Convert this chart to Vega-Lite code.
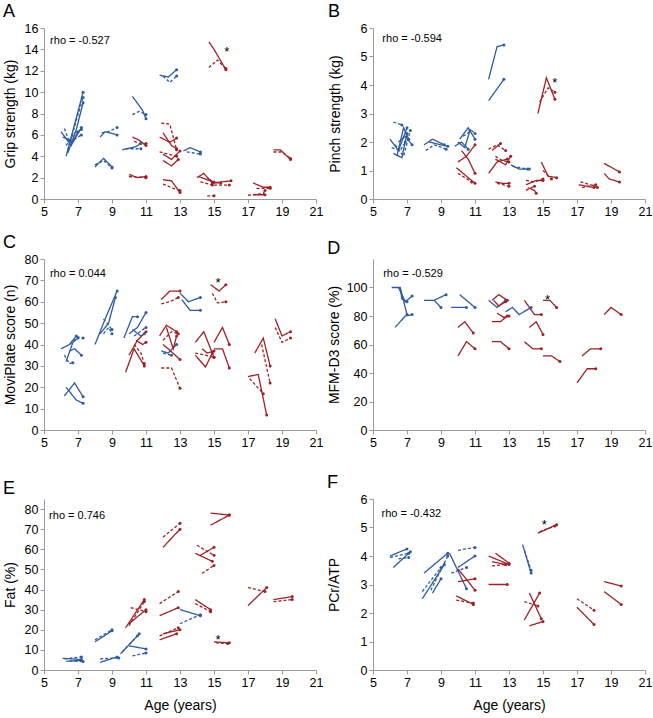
{
"$schema": "https://vega.github.io/schema/vega-lite/v6.json",
"background": "white",
"padding": {"left": 3, "top": 3, "right": 1, "bottom": 1},
"datasets": {
"L": [
{"p":"A","i":"a1","s":"s","g":"b","x":6.3,"y":4.0},{"p":"A","i":"a1","s":"s","g":"b","x":7.3,"y":10.0},
{"p":"A","i":"a2","s":"d","g":"b","x":6.4,"y":4.6},{"p":"A","i":"a2","s":"d","g":"b","x":7.3,"y":9.5},
{"p":"A","i":"a3","s":"s","g":"b","x":6.0,"y":6.3},{"p":"A","i":"a3","s":"s","g":"b","x":6.6,"y":5.0},{"p":"A","i":"a3","s":"s","g":"b","x":7.2,"y":6.7},
{"p":"A","i":"a4","s":"d","g":"b","x":6.2,"y":6.6},{"p":"A","i":"a4","s":"d","g":"b","x":6.5,"y":5.3},{"p":"A","i":"a4","s":"d","g":"b","x":7.2,"y":6.0},
{"p":"A","i":"a5","s":"s","g":"b","x":6.1,"y":5.8},{"p":"A","i":"a5","s":"s","g":"b","x":6.7,"y":5.4},{"p":"A","i":"a5","s":"s","g":"b","x":7.0,"y":6.3},
{"p":"A","i":"a6","s":"d","g":"b","x":6.3,"y":5.0},{"p":"A","i":"a6","s":"d","g":"b","x":6.8,"y":6.2},{"p":"A","i":"a6","s":"d","g":"b","x":7.2,"y":6.5},
{"p":"A","i":"a7","s":"s","g":"b","x":6.4,"y":4.3},{"p":"A","i":"a7","s":"s","g":"b","x":6.9,"y":6.5},{"p":"A","i":"a7","s":"s","g":"b","x":7.3,"y":9.0},
{"p":"A","i":"a8","s":"s","g":"b","x":8.0,"y":3.0},{"p":"A","i":"a8","s":"s","g":"b","x":8.5,"y":3.8},{"p":"A","i":"a8","s":"s","g":"b","x":9.0,"y":3.0},
{"p":"A","i":"a9","s":"d","g":"b","x":8.0,"y":3.2},{"p":"A","i":"a9","s":"d","g":"b","x":8.5,"y":3.6},{"p":"A","i":"a9","s":"d","g":"b","x":9.0,"y":2.9},
{"p":"A","i":"a10","s":"s","g":"b","x":8.3,"y":5.8},{"p":"A","i":"a10","s":"s","g":"b","x":8.6,"y":6.3},{"p":"A","i":"a10","s":"s","g":"b","x":9.3,"y":6.0},
{"p":"A","i":"a11","s":"d","g":"b","x":8.4,"y":6.2},{"p":"A","i":"a11","s":"d","g":"b","x":8.8,"y":6.3},{"p":"A","i":"a11","s":"d","g":"b","x":9.3,"y":6.7},
{"p":"A","i":"a12","s":"s","g":"b","x":10.2,"y":9.6},{"p":"A","i":"a12","s":"s","g":"b","x":10.8,"y":8.3},{"p":"A","i":"a12","s":"s","g":"b","x":11.0,"y":7.5},
{"p":"A","i":"a13","s":"d","g":"b","x":10.2,"y":7.9},{"p":"A","i":"a13","s":"d","g":"b","x":10.6,"y":8.2},{"p":"A","i":"a13","s":"d","g":"b","x":11.0,"y":7.9},
{"p":"A","i":"a14","s":"s","g":"b","x":9.6,"y":4.6},{"p":"A","i":"a14","s":"s","g":"b","x":10.4,"y":4.9},{"p":"A","i":"a14","s":"s","g":"b","x":10.7,"y":5.2},
{"p":"A","i":"a15","s":"d","g":"b","x":9.8,"y":4.7},{"p":"A","i":"a15","s":"d","g":"b","x":10.7,"y":4.7},
{"p":"A","i":"a16","s":"s","g":"b","x":11.8,"y":11.6},{"p":"A","i":"a16","s":"s","g":"b","x":12.3,"y":11.4},{"p":"A","i":"a16","s":"s","g":"b","x":12.8,"y":12.1},
{"p":"A","i":"a17","s":"d","g":"b","x":12.0,"y":11.5},{"p":"A","i":"a17","s":"d","g":"b","x":12.4,"y":10.9},{"p":"A","i":"a17","s":"d","g":"b","x":12.8,"y":11.5},
{"p":"A","i":"a18","s":"s","g":"b","x":13.2,"y":4.5},{"p":"A","i":"a18","s":"s","g":"b","x":13.6,"y":4.8},{"p":"A","i":"a18","s":"s","g":"b","x":14.2,"y":4.4},
{"p":"A","i":"a19","s":"d","g":"b","x":13.4,"y":4.4},{"p":"A","i":"a19","s":"d","g":"b","x":14.2,"y":4.2},
{"p":"A","i":"a20","s":"s","g":"r","x":14.7,"y":14.7},{"p":"A","i":"a20","s":"s","g":"r","x":15.0,"y":14.0},{"p":"A","i":"a20","s":"s","g":"r","x":15.7,"y":12.1},
{"p":"A","i":"a21","s":"d","g":"r","x":14.7,"y":12.3},{"p":"A","i":"a21","s":"d","g":"r","x":15.2,"y":13.0},{"p":"A","i":"a21","s":"d","g":"r","x":15.7,"y":12.2},
{"p":"A","i":"a22","s":"d","g":"r","x":11.9,"y":7.1},{"p":"A","i":"a22","s":"d","g":"r","x":12.4,"y":7.0},{"p":"A","i":"a22","s":"d","g":"r","x":12.8,"y":4.6},
{"p":"A","i":"a23","s":"s","g":"r","x":11.8,"y":5.8},{"p":"A","i":"a23","s":"s","g":"r","x":12.4,"y":5.3},{"p":"A","i":"a23","s":"s","g":"r","x":12.8,"y":5.7},
{"p":"A","i":"a24","s":"s","g":"r","x":12.0,"y":6.2},{"p":"A","i":"a24","s":"s","g":"r","x":12.5,"y":5.0},{"p":"A","i":"a24","s":"s","g":"r","x":12.8,"y":4.7},
{"p":"A","i":"a25","s":"s","g":"r","x":12.0,"y":4.2},{"p":"A","i":"a25","s":"s","g":"r","x":12.5,"y":3.7},{"p":"A","i":"a25","s":"s","g":"r","x":13.0,"y":4.5},
{"p":"A","i":"a26","s":"d","g":"r","x":11.8,"y":4.4},{"p":"A","i":"a26","s":"d","g":"r","x":12.3,"y":4.2},{"p":"A","i":"a26","s":"d","g":"r","x":12.8,"y":4.0},
{"p":"A","i":"a27","s":"s","g":"r","x":12.0,"y":3.6},{"p":"A","i":"a27","s":"s","g":"r","x":12.5,"y":3.1},{"p":"A","i":"a27","s":"s","g":"r","x":12.9,"y":3.7},
{"p":"A","i":"a28","s":"s","g":"r","x":10.2,"y":5.8},{"p":"A","i":"a28","s":"s","g":"r","x":10.6,"y":5.5},{"p":"A","i":"a28","s":"s","g":"r","x":11.0,"y":5.0},
{"p":"A","i":"a29","s":"d","g":"r","x":10.3,"y":5.4},{"p":"A","i":"a29","s":"d","g":"r","x":10.8,"y":5.1},{"p":"A","i":"a29","s":"d","g":"r","x":11.0,"y":5.2},
{"p":"A","i":"a30","s":"s","g":"r","x":10.0,"y":2.3},{"p":"A","i":"a30","s":"s","g":"r","x":10.5,"y":2.0},{"p":"A","i":"a30","s":"s","g":"r","x":11.0,"y":2.1},
{"p":"A","i":"a31","s":"d","g":"r","x":10.0,"y":2.1},{"p":"A","i":"a31","s":"d","g":"r","x":11.0,"y":2.0},
{"p":"A","i":"a32","s":"s","g":"r","x":12.0,"y":1.8},{"p":"A","i":"a32","s":"s","g":"r","x":12.5,"y":1.7},{"p":"A","i":"a32","s":"s","g":"r","x":13.0,"y":0.6},
{"p":"A","i":"a33","s":"d","g":"r","x":12.0,"y":1.4},{"p":"A","i":"a33","s":"d","g":"r","x":12.6,"y":1.0},{"p":"A","i":"a33","s":"d","g":"r","x":13.0,"y":0.8},
{"p":"A","i":"a34","s":"s","g":"r","x":14.0,"y":2.0},{"p":"A","i":"a34","s":"s","g":"r","x":14.4,"y":2.4},{"p":"A","i":"a34","s":"s","g":"r","x":14.9,"y":1.5},
{"p":"A","i":"a35","s":"d","g":"r","x":14.2,"y":1.6},{"p":"A","i":"a35","s":"d","g":"r","x":14.9,"y":1.3},
{"p":"A","i":"a36","s":"s","g":"r","x":14.6,"y":2.0},{"p":"A","i":"a36","s":"s","g":"r","x":15.0,"y":1.5},{"p":"A","i":"a36","s":"s","g":"r","x":15.4,"y":1.5},
{"p":"A","i":"a37","s":"s","g":"r","x":14.9,"y":1.5},{"p":"A","i":"a37","s":"s","g":"r","x":16.0,"y":1.7},
{"p":"A","i":"a38","s":"d","g":"r","x":15.0,"y":1.3},{"p":"A","i":"a38","s":"d","g":"r","x":15.9,"y":1.3},
{"p":"A","i":"a39","s":"s","g":"r","x":14.1,"y":2.1},{"p":"A","i":"a39","s":"s","g":"r","x":14.6,"y":1.8},{"p":"A","i":"a39","s":"s","g":"r","x":15.0,"y":1.6},
{"p":"A","i":"a40","s":"d","g":"r","x":14.6,"y":0.3},{"p":"A","i":"a40","s":"d","g":"r","x":15.0,"y":0.3},
{"p":"A","i":"a41","s":"s","g":"r","x":17.3,"y":1.5},{"p":"A","i":"a41","s":"s","g":"r","x":17.9,"y":1.1},{"p":"A","i":"a41","s":"s","g":"r","x":18.3,"y":1.1},
{"p":"A","i":"a42","s":"d","g":"r","x":17.5,"y":1.0},{"p":"A","i":"a42","s":"d","g":"r","x":18.3,"y":1.0},
{"p":"A","i":"a43","s":"d","g":"r","x":17.0,"y":0.35},{"p":"A","i":"a43","s":"d","g":"r","x":17.9,"y":0.5},{"p":"A","i":"a43","s":"d","g":"r","x":18.0,"y":0.8},
{"p":"A","i":"a44","s":"s","g":"r","x":17.3,"y":0.4},{"p":"A","i":"a44","s":"s","g":"r","x":18.0,"y":0.4},
{"p":"A","i":"a45","s":"s","g":"r","x":18.5,"y":4.6},{"p":"A","i":"a45","s":"s","g":"r","x":18.9,"y":4.6},{"p":"A","i":"a45","s":"s","g":"r","x":19.5,"y":3.7},
{"p":"A","i":"a46","s":"d","g":"r","x":18.5,"y":4.4},{"p":"A","i":"a46","s":"d","g":"r","x":19.0,"y":4.4},{"p":"A","i":"a46","s":"d","g":"r","x":19.5,"y":3.8},

{"p":"B","i":"b1","s":"d","g":"b","x":6.2,"y":2.7},{"p":"B","i":"b1","s":"d","g":"b","x":6.7,"y":2.6},
{"p":"B","i":"b2","s":"s","g":"b","x":6.0,"y":2.1},{"p":"B","i":"b2","s":"s","g":"b","x":6.5,"y":1.7},{"p":"B","i":"b2","s":"s","g":"b","x":7.0,"y":2.5},
{"p":"B","i":"b3","s":"s","g":"b","x":6.2,"y":1.6},{"p":"B","i":"b3","s":"s","g":"b","x":6.7,"y":1.45},{"p":"B","i":"b3","s":"s","g":"b","x":7.0,"y":2.3},
{"p":"B","i":"b4","s":"d","g":"b","x":6.3,"y":1.9},{"p":"B","i":"b4","s":"d","g":"b","x":6.8,"y":1.5},{"p":"B","i":"b4","s":"d","g":"b","x":7.2,"y":2.4},
{"p":"B","i":"b5","s":"s","g":"b","x":6.5,"y":2.0},{"p":"B","i":"b5","s":"s","g":"b","x":6.9,"y":2.2},{"p":"B","i":"b5","s":"s","g":"b","x":7.3,"y":1.9},
{"p":"B","i":"b6","s":"d","g":"b","x":6.1,"y":1.8},{"p":"B","i":"b6","s":"d","g":"b","x":6.6,"y":1.7},{"p":"B","i":"b6","s":"d","g":"b","x":6.9,"y":2.0},
{"p":"B","i":"b7","s":"s","g":"b","x":6.4,"y":1.5},{"p":"B","i":"b7","s":"s","g":"b","x":6.8,"y":2.5},{"p":"B","i":"b7","s":"s","g":"b","x":7.1,"y":2.1},
{"p":"B","i":"b8","s":"s","g":"b","x":8.0,"y":1.9},{"p":"B","i":"b8","s":"s","g":"b","x":8.5,"y":2.1},{"p":"B","i":"b8","s":"s","g":"b","x":9.2,"y":1.9},
{"p":"B","i":"b9","s":"d","g":"b","x":8.1,"y":1.7},{"p":"B","i":"b9","s":"d","g":"b","x":8.6,"y":1.9},{"p":"B","i":"b9","s":"d","g":"b","x":9.3,"y":1.75},
{"p":"B","i":"b10","s":"s","g":"b","x":8.3,"y":2.0},{"p":"B","i":"b10","s":"s","g":"b","x":9.0,"y":1.9},{"p":"B","i":"b10","s":"s","g":"b","x":9.4,"y":1.85},
{"p":"B","i":"b11","s":"s","g":"b","x":9.8,"y":1.85},{"p":"B","i":"b11","s":"s","g":"b","x":10.2,"y":2.0},{"p":"B","i":"b11","s":"s","g":"b","x":10.6,"y":1.75},
{"p":"B","i":"b12","s":"s","g":"b","x":10.1,"y":2.1},{"p":"B","i":"b12","s":"s","g":"b","x":10.6,"y":2.5},{"p":"B","i":"b12","s":"s","g":"b","x":11.0,"y":2.1},
{"p":"B","i":"b13","s":"d","g":"b","x":10.3,"y":2.2},{"p":"B","i":"b13","s":"d","g":"b","x":10.8,"y":2.4},{"p":"B","i":"b13","s":"d","g":"b","x":11.0,"y":2.3},
{"p":"B","i":"b14","s":"s","g":"b","x":10.0,"y":2.0},{"p":"B","i":"b14","s":"s","g":"b","x":10.4,"y":1.8},{"p":"B","i":"b14","s":"s","g":"b","x":10.7,"y":2.4},
{"p":"B","i":"b15","s":"s","g":"b","x":11.8,"y":4.2},{"p":"B","i":"b15","s":"s","g":"b","x":12.3,"y":5.35},{"p":"B","i":"b15","s":"s","g":"b","x":12.7,"y":5.4},
{"p":"B","i":"b16","s":"s","g":"b","x":11.8,"y":3.45},{"p":"B","i":"b16","s":"s","g":"b","x":12.7,"y":4.2},
{"p":"B","i":"b17","s":"s","g":"b","x":13.1,"y":1.2},{"p":"B","i":"b17","s":"s","g":"b","x":13.6,"y":1.05},{"p":"B","i":"b17","s":"s","g":"b","x":14.2,"y":1.05},
{"p":"B","i":"b18","s":"d","g":"b","x":13.2,"y":1.15},{"p":"B","i":"b18","s":"d","g":"b","x":14.1,"y":1.05},
{"p":"B","i":"b19","s":"s","g":"r","x":10.0,"y":1.3},{"p":"B","i":"b19","s":"s","g":"r","x":10.5,"y":1.5},{"p":"B","i":"b19","s":"s","g":"r","x":11.0,"y":1.9},
{"p":"B","i":"b20","s":"s","g":"r","x":10.2,"y":1.7},{"p":"B","i":"b20","s":"s","g":"r","x":10.6,"y":1.4},{"p":"B","i":"b20","s":"s","g":"r","x":11.0,"y":0.9},
{"p":"B","i":"b21","s":"s","g":"r","x":9.9,"y":1.1},{"p":"B","i":"b21","s":"s","g":"r","x":10.5,"y":0.8},{"p":"B","i":"b21","s":"s","g":"r","x":11.0,"y":0.55},
{"p":"B","i":"b22","s":"d","g":"r","x":10.0,"y":0.9},{"p":"B","i":"b22","s":"d","g":"r","x":10.8,"y":0.6},
{"p":"B","i":"b23","s":"d","g":"r","x":11.8,"y":1.75},{"p":"B","i":"b23","s":"d","g":"r","x":12.3,"y":1.9},{"p":"B","i":"b23","s":"d","g":"r","x":12.8,"y":1.7},
{"p":"B","i":"b24","s":"s","g":"r","x":12.0,"y":1.7},{"p":"B","i":"b24","s":"s","g":"r","x":12.5,"y":1.95},
{"p":"B","i":"b25","s":"s","g":"r","x":12.2,"y":1.4},{"p":"B","i":"b25","s":"s","g":"r","x":12.8,"y":1.2},{"p":"B","i":"b25","s":"s","g":"r","x":13.1,"y":1.5},
{"p":"B","i":"b26","s":"s","g":"r","x":11.8,"y":0.9},{"p":"B","i":"b26","s":"s","g":"r","x":12.3,"y":1.3},{"p":"B","i":"b26","s":"s","g":"r","x":12.9,"y":1.4},
{"p":"B","i":"b27","s":"d","g":"r","x":12.2,"y":1.5},{"p":"B","i":"b27","s":"d","g":"r","x":12.6,"y":1.35},{"p":"B","i":"b27","s":"d","g":"r","x":13.0,"y":1.3},
{"p":"B","i":"b28","s":"s","g":"r","x":12.2,"y":0.6},{"p":"B","i":"b28","s":"s","g":"r","x":12.6,"y":0.55},{"p":"B","i":"b28","s":"s","g":"r","x":13.0,"y":0.55},
{"p":"B","i":"b29","s":"d","g":"r","x":12.3,"y":0.55},{"p":"B","i":"b29","s":"d","g":"r","x":13.0,"y":0.45},
{"p":"B","i":"b30","s":"d","g":"r","x":14.0,"y":0.65},{"p":"B","i":"b30","s":"d","g":"r","x":14.5,"y":0.6},{"p":"B","i":"b30","s":"d","g":"r","x":15.0,"y":0.7},
{"p":"B","i":"b31","s":"s","g":"r","x":14.0,"y":0.5},{"p":"B","i":"b31","s":"s","g":"r","x":14.6,"y":0.65},{"p":"B","i":"b31","s":"s","g":"r","x":15.0,"y":0.65},
{"p":"B","i":"b32","s":"s","g":"r","x":14.1,"y":0.4},{"p":"B","i":"b32","s":"s","g":"r","x":14.5,"y":0.3},{"p":"B","i":"b32","s":"s","g":"r","x":14.6,"y":0.2},
{"p":"B","i":"b33","s":"d","g":"r","x":14.0,"y":0.3},{"p":"B","i":"b33","s":"d","g":"r","x":14.5,"y":0.45},
{"p":"B","i":"b34","s":"s","g":"r","x":14.7,"y":3.0},{"p":"B","i":"b34","s":"s","g":"r","x":15.2,"y":4.25},{"p":"B","i":"b34","s":"s","g":"r","x":15.7,"y":3.5},
{"p":"B","i":"b35","s":"d","g":"r","x":14.8,"y":3.4},{"p":"B","i":"b35","s":"d","g":"r","x":15.3,"y":3.9},{"p":"B","i":"b35","s":"d","g":"r","x":15.7,"y":3.75},
{"p":"B","i":"b36","s":"s","g":"r","x":14.9,"y":1.3},{"p":"B","i":"b36","s":"s","g":"r","x":15.3,"y":0.8},{"p":"B","i":"b36","s":"s","g":"r","x":15.8,"y":0.75},
{"p":"B","i":"b37","s":"d","g":"r","x":15.0,"y":1.0},{"p":"B","i":"b37","s":"d","g":"r","x":15.5,"y":0.7},
{"p":"B","i":"b38","s":"d","g":"r","x":17.2,"y":0.6},{"p":"B","i":"b38","s":"d","g":"r","x":17.8,"y":0.5},{"p":"B","i":"b38","s":"d","g":"r","x":18.2,"y":0.4},
{"p":"B","i":"b39","s":"s","g":"r","x":17.1,"y":0.5},{"p":"B","i":"b39","s":"s","g":"r","x":18.0,"y":0.4},
{"p":"B","i":"b40","s":"d","g":"r","x":17.3,"y":0.4},{"p":"B","i":"b40","s":"d","g":"r","x":18.1,"y":0.5},
{"p":"B","i":"b41","s":"s","g":"r","x":18.6,"y":1.25},{"p":"B","i":"b41","s":"s","g":"r","x":19.5,"y":0.95},
{"p":"B","i":"b42","s":"s","g":"r","x":18.6,"y":0.9},{"p":"B","i":"b42","s":"s","g":"r","x":18.9,"y":0.7},{"p":"B","i":"b42","s":"s","g":"r","x":19.5,"y":0.6},

{"p":"C","i":"c1","s":"s","g":"b","x":6.0,"y":38},{"p":"C","i":"c1","s":"s","g":"b","x":6.5,"y":40},{"p":"C","i":"c1","s":"s","g":"b","x":6.9,"y":44},
{"p":"C","i":"c2","s":"d","g":"b","x":6.2,"y":35},{"p":"C","i":"c2","s":"d","g":"b","x":6.5,"y":31},{"p":"C","i":"c2","s":"d","g":"b","x":6.7,"y":31.5},
{"p":"C","i":"c3","s":"s","g":"b","x":6.3,"y":32},{"p":"C","i":"c3","s":"s","g":"b","x":6.7,"y":41},{"p":"C","i":"c3","s":"s","g":"b","x":7.0,"y":43},
{"p":"C","i":"c4","s":"d","g":"b","x":6.5,"y":40},{"p":"C","i":"c4","s":"d","g":"b","x":7.0,"y":43.5},{"p":"C","i":"c4","s":"d","g":"b","x":7.3,"y":43},
{"p":"C","i":"c5","s":"s","g":"b","x":6.5,"y":37},{"p":"C","i":"c5","s":"s","g":"b","x":6.8,"y":38},{"p":"C","i":"c5","s":"s","g":"b","x":7.2,"y":35},
{"p":"C","i":"c6","s":"s","g":"b","x":6.3,"y":20},{"p":"C","i":"c6","s":"s","g":"b","x":6.9,"y":14},{"p":"C","i":"c6","s":"s","g":"b","x":7.3,"y":12.5},
{"p":"C","i":"c7","s":"s","g":"b","x":6.2,"y":16},{"p":"C","i":"c7","s":"s","g":"b","x":6.8,"y":22},{"p":"C","i":"c7","s":"s","g":"b","x":7.3,"y":15.5},
{"p":"C","i":"c8","s":"s","g":"b","x":8.0,"y":40},{"p":"C","i":"c8","s":"s","g":"b","x":8.6,"y":52},{"p":"C","i":"c8","s":"s","g":"b","x":9.3,"y":65},
{"p":"C","i":"c9","s":"s","g":"b","x":8.3,"y":45},{"p":"C","i":"c9","s":"s","g":"b","x":8.8,"y":50},{"p":"C","i":"c9","s":"s","g":"b","x":9.2,"y":62},
{"p":"C","i":"c10","s":"d","g":"b","x":8.5,"y":52},{"p":"C","i":"c10","s":"d","g":"b","x":9.0,"y":47},
{"p":"C","i":"c11","s":"d","g":"b","x":8.5,"y":45},{"p":"C","i":"c11","s":"d","g":"b","x":8.8,"y":48},{"p":"C","i":"c11","s":"d","g":"b","x":9.0,"y":45},
{"p":"C","i":"c12","s":"s","g":"b","x":9.7,"y":43},{"p":"C","i":"c12","s":"s","g":"b","x":10.2,"y":53},{"p":"C","i":"c12","s":"s","g":"b","x":10.5,"y":53},
{"p":"C","i":"c13","s":"s","g":"b","x":10.0,"y":45},{"p":"C","i":"c13","s":"s","g":"b","x":10.5,"y":48},{"p":"C","i":"c13","s":"s","g":"b","x":11.0,"y":55},
{"p":"C","i":"c14","s":"d","g":"b","x":10.3,"y":44},{"p":"C","i":"c14","s":"d","g":"b","x":11.0,"y":48},
{"p":"C","i":"c15","s":"s","g":"b","x":10.2,"y":47},{"p":"C","i":"c15","s":"s","g":"b","x":10.7,"y":44},{"p":"C","i":"c15","s":"s","g":"b","x":10.9,"y":45},
{"p":"C","i":"c16","s":"s","g":"b","x":11.9,"y":37},{"p":"C","i":"c16","s":"s","g":"b","x":12.3,"y":36},{"p":"C","i":"c16","s":"s","g":"b","x":12.8,"y":40},
{"p":"C","i":"c17","s":"d","g":"b","x":12.0,"y":36},{"p":"C","i":"c17","s":"d","g":"b","x":12.5,"y":35},
{"p":"C","i":"c18","s":"s","g":"b","x":13.0,"y":64},{"p":"C","i":"c18","s":"s","g":"b","x":13.5,"y":60},{"p":"C","i":"c18","s":"s","g":"b","x":14.2,"y":62},
{"p":"C","i":"c19","s":"s","g":"b","x":13.1,"y":61},{"p":"C","i":"c19","s":"s","g":"b","x":13.6,"y":56},{"p":"C","i":"c19","s":"s","g":"b","x":14.2,"y":56},
{"p":"C","i":"c20","s":"s","g":"r","x":9.8,"y":27},{"p":"C","i":"c20","s":"s","g":"r","x":10.3,"y":38},{"p":"C","i":"c20","s":"s","g":"r","x":10.9,"y":30},
{"p":"C","i":"c21","s":"s","g":"r","x":10.0,"y":35},{"p":"C","i":"c21","s":"s","g":"r","x":10.5,"y":42},{"p":"C","i":"c21","s":"s","g":"r","x":11.0,"y":46},
{"p":"C","i":"c22","s":"d","g":"r","x":10.3,"y":40},{"p":"C","i":"c22","s":"d","g":"r","x":10.7,"y":36},{"p":"C","i":"c22","s":"d","g":"r","x":10.9,"y":31},
{"p":"C","i":"c23","s":"s","g":"r","x":10.4,"y":42},{"p":"C","i":"c23","s":"s","g":"r","x":10.8,"y":40},{"p":"C","i":"c23","s":"s","g":"r","x":11.0,"y":41},
{"p":"C","i":"c24","s":"s","g":"r","x":11.9,"y":61},{"p":"C","i":"c24","s":"s","g":"r","x":12.4,"y":65},{"p":"C","i":"c24","s":"s","g":"r","x":13.0,"y":65},
{"p":"C","i":"c25","s":"d","g":"r","x":11.9,"y":59},{"p":"C","i":"c25","s":"d","g":"r","x":12.4,"y":60},{"p":"C","i":"c25","s":"d","g":"r","x":12.9,"y":62},
{"p":"C","i":"c26","s":"s","g":"r","x":11.8,"y":44},{"p":"C","i":"c26","s":"s","g":"r","x":12.2,"y":49},{"p":"C","i":"c26","s":"s","g":"r","x":12.8,"y":46},
{"p":"C","i":"c27","s":"d","g":"r","x":12.0,"y":42},{"p":"C","i":"c27","s":"d","g":"r","x":12.5,"y":46},{"p":"C","i":"c27","s":"d","g":"r","x":12.9,"y":45},
{"p":"C","i":"c28","s":"s","g":"r","x":12.0,"y":40},{"p":"C","i":"c28","s":"s","g":"r","x":12.3,"y":38},{"p":"C","i":"c28","s":"s","g":"r","x":13.0,"y":33},
{"p":"C","i":"c29","s":"d","g":"r","x":11.9,"y":29},{"p":"C","i":"c29","s":"d","g":"r","x":12.5,"y":29},{"p":"C","i":"c29","s":"d","g":"r","x":13.0,"y":19.5},
{"p":"C","i":"c30","s":"s","g":"r","x":12.2,"y":48},{"p":"C","i":"c30","s":"s","g":"r","x":12.6,"y":38},{"p":"C","i":"c30","s":"s","g":"r","x":12.8,"y":44},
{"p":"C","i":"c31","s":"s","g":"r","x":13.9,"y":41},{"p":"C","i":"c31","s":"s","g":"r","x":14.4,"y":46},{"p":"C","i":"c31","s":"s","g":"r","x":15.0,"y":34},
{"p":"C","i":"c32","s":"d","g":"r","x":13.9,"y":36},{"p":"C","i":"c32","s":"d","g":"r","x":14.5,"y":35},{"p":"C","i":"c32","s":"d","g":"r","x":15.0,"y":34},
{"p":"C","i":"c33","s":"s","g":"r","x":13.9,"y":35},{"p":"C","i":"c33","s":"s","g":"r","x":14.5,"y":29.5},{"p":"C","i":"c33","s":"s","g":"r","x":14.9,"y":36},
{"p":"C","i":"c34","s":"s","g":"r","x":14.3,"y":38},{"p":"C","i":"c34","s":"s","g":"r","x":14.6,"y":36},{"p":"C","i":"c34","s":"s","g":"r","x":15.0,"y":37},
{"p":"C","i":"c35","s":"s","g":"r","x":14.8,"y":68},{"p":"C","i":"c35","s":"s","g":"r","x":15.3,"y":65},{"p":"C","i":"c35","s":"s","g":"r","x":15.7,"y":68},
{"p":"C","i":"c36","s":"d","g":"r","x":14.9,"y":64},{"p":"C","i":"c36","s":"d","g":"r","x":15.2,"y":59.5},{"p":"C","i":"c36","s":"d","g":"r","x":15.7,"y":60},
{"p":"C","i":"c37","s":"s","g":"r","x":15.0,"y":41},{"p":"C","i":"c37","s":"s","g":"r","x":15.5,"y":48},{"p":"C","i":"c37","s":"s","g":"r","x":15.9,"y":40},
{"p":"C","i":"c38","s":"s","g":"r","x":15.0,"y":38},{"p":"C","i":"c38","s":"s","g":"r","x":15.5,"y":38},{"p":"C","i":"c38","s":"s","g":"r","x":15.9,"y":29},
{"p":"C","i":"c39","s":"s","g":"r","x":17.4,"y":36},{"p":"C","i":"c39","s":"s","g":"r","x":17.9,"y":43},{"p":"C","i":"c39","s":"s","g":"r","x":18.3,"y":30},
{"p":"C","i":"c40","s":"s","g":"r","x":17.0,"y":25},{"p":"C","i":"c40","s":"s","g":"r","x":17.6,"y":26},{"p":"C","i":"c40","s":"s","g":"r","x":18.1,"y":7},
{"p":"C","i":"c41","s":"d","g":"r","x":17.1,"y":24},{"p":"C","i":"c41","s":"d","g":"r","x":17.9,"y":17},
{"p":"C","i":"c42","s":"d","g":"r","x":17.8,"y":40},{"p":"C","i":"c42","s":"d","g":"r","x":18.3,"y":22},
{"p":"C","i":"c43","s":"s","g":"r","x":18.6,"y":52},{"p":"C","i":"c43","s":"s","g":"r","x":19.0,"y":44},{"p":"C","i":"c43","s":"s","g":"r","x":19.5,"y":46},
{"p":"C","i":"c44","s":"d","g":"r","x":18.6,"y":48},{"p":"C","i":"c44","s":"d","g":"r","x":19.0,"y":41},{"p":"C","i":"c44","s":"d","g":"r","x":19.5,"y":43},

{"p":"D","i":"d1","s":"s","g":"b","x":6.1,"y":100},{"p":"D","i":"d1","s":"s","g":"b","x":6.6,"y":100},{"p":"D","i":"d1","s":"s","g":"b","x":7.0,"y":81},
{"p":"D","i":"d2","s":"s","g":"b","x":6.5,"y":100},{"p":"D","i":"d2","s":"s","g":"b","x":6.9,"y":90},{"p":"D","i":"d2","s":"s","g":"b","x":7.3,"y":94},
{"p":"D","i":"d3","s":"s","g":"b","x":6.3,"y":72},{"p":"D","i":"d3","s":"s","g":"b","x":6.9,"y":80},{"p":"D","i":"d3","s":"s","g":"b","x":7.3,"y":81},
{"p":"D","i":"d4","s":"s","g":"b","x":6.6,"y":100},{"p":"D","i":"d4","s":"s","g":"b","x":6.7,"y":92},{"p":"D","i":"d4","s":"s","g":"b","x":7.0,"y":90},
{"p":"D","i":"d5","s":"s","g":"b","x":8.0,"y":91},{"p":"D","i":"d5","s":"s","g":"b","x":8.6,"y":91},{"p":"D","i":"d5","s":"s","g":"b","x":9.0,"y":86},
{"p":"D","i":"d6","s":"s","g":"b","x":8.6,"y":91},{"p":"D","i":"d6","s":"s","g":"b","x":9.3,"y":95},
{"p":"D","i":"d7","s":"s","g":"b","x":9.6,"y":86},{"p":"D","i":"d7","s":"s","g":"b","x":10.5,"y":86},
{"p":"D","i":"d8","s":"s","g":"b","x":10.1,"y":95},{"p":"D","i":"d8","s":"s","g":"b","x":11.0,"y":86},
{"p":"D","i":"d9","s":"s","g":"b","x":11.8,"y":91},{"p":"D","i":"d9","s":"s","g":"b","x":12.3,"y":86},{"p":"D","i":"d9","s":"s","g":"b","x":12.8,"y":91},
{"p":"D","i":"d10","s":"s","g":"b","x":12.8,"y":83},{"p":"D","i":"d10","s":"s","g":"b","x":13.2,"y":86},{"p":"D","i":"d10","s":"s","g":"b","x":13.6,"y":81},{"p":"D","i":"d10","s":"s","g":"b","x":14.3,"y":86},
{"p":"D","i":"d11","s":"s","g":"r","x":12.0,"y":91},{"p":"D","i":"d11","s":"s","g":"r","x":12.4,"y":95},{"p":"D","i":"d11","s":"s","g":"r","x":12.9,"y":91},
{"p":"D","i":"d12","s":"s","g":"r","x":12.1,"y":91},{"p":"D","i":"d12","s":"s","g":"r","x":12.4,"y":87},{"p":"D","i":"d12","s":"s","g":"r","x":12.8,"y":90},
{"p":"D","i":"d13","s":"s","g":"r","x":12.0,"y":76},{"p":"D","i":"d13","s":"s","g":"r","x":12.5,"y":76},{"p":"D","i":"d13","s":"s","g":"r","x":12.9,"y":80},
{"p":"D","i":"d14","s":"s","g":"r","x":12.3,"y":82},{"p":"D","i":"d14","s":"s","g":"r","x":12.7,"y":79},{"p":"D","i":"d14","s":"s","g":"r","x":13.0,"y":80},
{"p":"D","i":"d15","s":"s","g":"r","x":10.0,"y":72},{"p":"D","i":"d15","s":"s","g":"r","x":10.4,"y":76},{"p":"D","i":"d15","s":"s","g":"r","x":10.9,"y":68},
{"p":"D","i":"d16","s":"s","g":"r","x":10.0,"y":52},{"p":"D","i":"d16","s":"s","g":"r","x":10.5,"y":62},{"p":"D","i":"d16","s":"s","g":"r","x":11.0,"y":57},
{"p":"D","i":"d17","s":"s","g":"r","x":12.0,"y":62},{"p":"D","i":"d17","s":"s","g":"r","x":12.5,"y":62},{"p":"D","i":"d17","s":"s","g":"r","x":13.0,"y":57},
{"p":"D","i":"d18","s":"s","g":"r","x":13.9,"y":91},{"p":"D","i":"d18","s":"s","g":"r","x":14.2,"y":86},{"p":"D","i":"d18","s":"s","g":"r","x":14.5,"y":81},{"p":"D","i":"d18","s":"s","g":"r","x":14.9,"y":81},
{"p":"D","i":"d19","s":"s","g":"r","x":14.2,"y":72},{"p":"D","i":"d19","s":"s","g":"r","x":14.6,"y":76},{"p":"D","i":"d19","s":"s","g":"r","x":15.0,"y":67},
{"p":"D","i":"d20","s":"s","g":"r","x":13.9,"y":62},{"p":"D","i":"d20","s":"s","g":"r","x":14.4,"y":57},{"p":"D","i":"d20","s":"s","g":"r","x":14.9,"y":57},
{"p":"D","i":"d21","s":"s","g":"r","x":15.0,"y":91},{"p":"D","i":"d21","s":"s","g":"r","x":15.4,"y":91},{"p":"D","i":"d21","s":"s","g":"r","x":15.8,"y":86},
{"p":"D","i":"d22","s":"s","g":"r","x":15.0,"y":52},{"p":"D","i":"d22","s":"s","g":"r","x":15.5,"y":52},{"p":"D","i":"d22","s":"s","g":"r","x":16.0,"y":48},
{"p":"D","i":"d23","s":"s","g":"r","x":17.3,"y":52},{"p":"D","i":"d23","s":"s","g":"r","x":17.8,"y":57},{"p":"D","i":"d23","s":"s","g":"r","x":18.4,"y":57},
{"p":"D","i":"d24","s":"s","g":"r","x":17.0,"y":33},{"p":"D","i":"d24","s":"s","g":"r","x":17.6,"y":43},{"p":"D","i":"d24","s":"s","g":"r","x":18.1,"y":43},
{"p":"D","i":"d25","s":"s","g":"r","x":18.6,"y":81},{"p":"D","i":"d25","s":"s","g":"r","x":19.0,"y":86},{"p":"D","i":"d25","s":"s","g":"r","x":19.6,"y":81},

{"p":"E","i":"e1","s":"s","g":"b","x":6.1,"y":5.8},{"p":"E","i":"e1","s":"s","g":"b","x":7.2,"y":5.2},
{"p":"E","i":"e2","s":"d","g":"b","x":6.2,"y":5.5},{"p":"E","i":"e2","s":"d","g":"b","x":7.2,"y":6.5},
{"p":"E","i":"e3","s":"d","g":"b","x":6.5,"y":4.5},{"p":"E","i":"e3","s":"d","g":"b","x":7.3,"y":4.2},
{"p":"E","i":"e4","s":"s","g":"b","x":6.3,"y":4.3},{"p":"E","i":"e4","s":"s","g":"b","x":7.2,"y":4.8},
{"p":"E","i":"e5","s":"s","g":"b","x":8.0,"y":14},{"p":"E","i":"e5","s":"s","g":"b","x":9.0,"y":19.5},
{"p":"E","i":"e6","s":"d","g":"b","x":8.0,"y":15},{"p":"E","i":"e6","s":"d","g":"b","x":9.0,"y":20},
{"p":"E","i":"e7","s":"s","g":"b","x":8.3,"y":3.8},{"p":"E","i":"e7","s":"s","g":"b","x":9.3,"y":6.5},
{"p":"E","i":"e8","s":"d","g":"b","x":8.3,"y":5.5},{"p":"E","i":"e8","s":"d","g":"b","x":9.4,"y":6.0},
{"p":"E","i":"e9","s":"s","g":"b","x":9.5,"y":8},{"p":"E","i":"e9","s":"s","g":"b","x":10.5,"y":17},
{"p":"E","i":"e10","s":"d","g":"b","x":9.6,"y":9},{"p":"E","i":"e10","s":"d","g":"b","x":10.6,"y":18},
{"p":"E","i":"e11","s":"s","g":"b","x":10.0,"y":12},{"p":"E","i":"e11","s":"s","g":"b","x":11.0,"y":10.5},
{"p":"E","i":"e12","s":"d","g":"b","x":10.2,"y":7},{"p":"E","i":"e12","s":"d","g":"b","x":11.0,"y":8.5},
{"p":"E","i":"e13","s":"s","g":"b","x":13.0,"y":30},{"p":"E","i":"e13","s":"s","g":"b","x":14.2,"y":27},
{"p":"E","i":"e14","s":"d","g":"b","x":13.0,"y":23},{"p":"E","i":"e14","s":"d","g":"b","x":14.2,"y":27.5},
{"p":"E","i":"e15","s":"s","g":"r","x":9.8,"y":21},{"p":"E","i":"e15","s":"s","g":"r","x":10.9,"y":35},
{"p":"E","i":"e16","s":"d","g":"r","x":10.1,"y":31},{"p":"E","i":"e16","s":"d","g":"r","x":11.0,"y":29},
{"p":"E","i":"e17","s":"s","g":"r","x":10.0,"y":23},{"p":"E","i":"e17","s":"s","g":"r","x":11.0,"y":30},
{"p":"E","i":"e18","s":"d","g":"r","x":10.0,"y":22},{"p":"E","i":"e18","s":"d","g":"r","x":10.9,"y":34},
{"p":"E","i":"e19","s":"s","g":"r","x":12.0,"y":61},{"p":"E","i":"e19","s":"s","g":"r","x":13.0,"y":70},
{"p":"E","i":"e20","s":"d","g":"r","x":12.0,"y":66},{"p":"E","i":"e20","s":"d","g":"r","x":13.0,"y":73},
{"p":"E","i":"e21","s":"d","g":"r","x":11.8,"y":33},{"p":"E","i":"e21","s":"d","g":"r","x":12.9,"y":39},
{"p":"E","i":"e22","s":"s","g":"r","x":11.8,"y":27},{"p":"E","i":"e22","s":"s","g":"r","x":12.9,"y":31},
{"p":"E","i":"e23","s":"d","g":"r","x":11.8,"y":17},{"p":"E","i":"e23","s":"d","g":"r","x":12.9,"y":21},
{"p":"E","i":"e24","s":"s","g":"r","x":11.8,"y":15},{"p":"E","i":"e24","s":"s","g":"r","x":12.8,"y":18},
{"p":"E","i":"e25","s":"s","g":"r","x":12.0,"y":18},{"p":"E","i":"e25","s":"s","g":"r","x":13.0,"y":20},
{"p":"E","i":"e26","s":"d","g":"r","x":14.0,"y":62},{"p":"E","i":"e26","s":"d","g":"r","x":15.0,"y":57},
{"p":"E","i":"e27","s":"s","g":"r","x":14.2,"y":57},{"p":"E","i":"e27","s":"s","g":"r","x":15.0,"y":61},
{"p":"E","i":"e28","s":"s","g":"r","x":13.9,"y":58},{"p":"E","i":"e28","s":"s","g":"r","x":14.9,"y":54},
{"p":"E","i":"e29","s":"d","g":"r","x":14.3,"y":48},{"p":"E","i":"e29","s":"d","g":"r","x":15.0,"y":52},
{"p":"E","i":"e30","s":"s","g":"r","x":13.9,"y":35},{"p":"E","i":"e30","s":"s","g":"r","x":14.8,"y":30},
{"p":"E","i":"e31","s":"d","g":"r","x":13.9,"y":33},{"p":"E","i":"e31","s":"d","g":"r","x":14.8,"y":29},
{"p":"E","i":"e32","s":"s","g":"r","x":14.8,"y":78},{"p":"E","i":"e32","s":"s","g":"r","x":15.9,"y":77},
{"p":"E","i":"e33","s":"s","g":"r","x":14.8,"y":72},{"p":"E","i":"e33","s":"s","g":"r","x":15.9,"y":77},
{"p":"E","i":"e34","s":"s","g":"r","x":15.0,"y":14},{"p":"E","i":"e34","s":"s","g":"r","x":15.9,"y":13.5},
{"p":"E","i":"e35","s":"d","g":"r","x":15.1,"y":13.5},{"p":"E","i":"e35","s":"d","g":"r","x":15.8,"y":13.2},
{"p":"E","i":"e36","s":"s","g":"r","x":17.0,"y":32},{"p":"E","i":"e36","s":"s","g":"r","x":18.1,"y":41},
{"p":"E","i":"e37","s":"d","g":"r","x":17.0,"y":41},{"p":"E","i":"e37","s":"d","g":"r","x":18.0,"y":39},
{"p":"E","i":"e38","s":"s","g":"r","x":18.5,"y":35},{"p":"E","i":"e38","s":"s","g":"r","x":19.6,"y":36.5},
{"p":"E","i":"e39","s":"d","g":"r","x":18.5,"y":34},{"p":"E","i":"e39","s":"d","g":"r","x":19.6,"y":35},

{"p":"F","i":"f1","s":"s","g":"b","x":6.0,"y":4.0},{"p":"F","i":"f1","s":"s","g":"b","x":7.0,"y":4.25},
{"p":"F","i":"f2","s":"d","g":"b","x":6.0,"y":3.95},{"p":"F","i":"f2","s":"d","g":"b","x":7.1,"y":4.1},
{"p":"F","i":"f3","s":"s","g":"b","x":6.2,"y":3.6},{"p":"F","i":"f3","s":"s","g":"b","x":7.2,"y":4.15},
{"p":"F","i":"f4","s":"d","g":"b","x":6.5,"y":3.9},{"p":"F","i":"f4","s":"d","g":"b","x":7.1,"y":3.95},
{"p":"F","i":"f5","s":"s","g":"b","x":7.9,"y":2.5},{"p":"F","i":"f5","s":"s","g":"b","x":9.2,"y":3.7},
{"p":"F","i":"f6","s":"d","g":"b","x":7.9,"y":2.75},{"p":"F","i":"f6","s":"d","g":"b","x":9.0,"y":3.6},
{"p":"F","i":"f7","s":"s","g":"b","x":8.0,"y":3.4},{"p":"F","i":"f7","s":"s","g":"b","x":9.4,"y":4.1},
{"p":"F","i":"f8","s":"d","g":"b","x":8.4,"y":2.8},{"p":"F","i":"f8","s":"d","g":"b","x":9.4,"y":4.0},
{"p":"F","i":"f9","s":"s","g":"b","x":8.5,"y":2.7},{"p":"F","i":"f9","s":"s","g":"b","x":9.0,"y":3.2},
{"p":"F","i":"f10","s":"s","g":"b","x":9.5,"y":4.1},{"p":"F","i":"f10","s":"s","g":"b","x":10.5,"y":2.85},
{"p":"F","i":"f11","s":"d","g":"b","x":9.6,"y":3.4},{"p":"F","i":"f11","s":"d","g":"b","x":10.5,"y":3.6},
{"p":"F","i":"f12","s":"d","g":"b","x":10.0,"y":4.2},{"p":"F","i":"f12","s":"d","g":"b","x":11.0,"y":4.3},
{"p":"F","i":"f13","s":"s","g":"b","x":10.0,"y":3.6},{"p":"F","i":"f13","s":"s","g":"b","x":11.0,"y":4.0},
{"p":"F","i":"f14","s":"s","g":"b","x":13.8,"y":4.4},{"p":"F","i":"f14","s":"s","g":"b","x":14.3,"y":3.4},
{"p":"F","i":"f15","s":"d","g":"b","x":13.9,"y":4.2},{"p":"F","i":"f15","s":"d","g":"b","x":14.3,"y":3.5},
{"p":"F","i":"f16","s":"s","g":"r","x":10.0,"y":3.1},{"p":"F","i":"f16","s":"s","g":"r","x":11.0,"y":3.2},
{"p":"F","i":"f17","s":"s","g":"r","x":10.0,"y":3.55},{"p":"F","i":"f17","s":"s","g":"r","x":11.0,"y":2.8},
{"p":"F","i":"f18","s":"s","g":"r","x":9.9,"y":2.6},{"p":"F","i":"f18","s":"s","g":"r","x":10.9,"y":2.3},
{"p":"F","i":"f19","s":"d","g":"r","x":9.9,"y":2.45},{"p":"F","i":"f19","s":"d","g":"r","x":10.9,"y":2.35},
{"p":"F","i":"f20","s":"s","g":"r","x":11.8,"y":4.0},{"p":"F","i":"f20","s":"s","g":"r","x":13.0,"y":3.7},
{"p":"F","i":"f21","s":"s","g":"r","x":12.2,"y":4.1},{"p":"F","i":"f21","s":"s","g":"r","x":13.0,"y":3.75},
{"p":"F","i":"f22","s":"d","g":"r","x":12.0,"y":3.65},{"p":"F","i":"f22","s":"d","g":"r","x":12.8,"y":3.7},
{"p":"F","i":"f23","s":"s","g":"r","x":12.0,"y":3.8},{"p":"F","i":"f23","s":"s","g":"r","x":12.8,"y":3.7},
{"p":"F","i":"f24","s":"s","g":"r","x":11.8,"y":3.0},{"p":"F","i":"f24","s":"s","g":"r","x":12.9,"y":3.0},
{"p":"F","i":"f25","s":"d","g":"r","x":13.9,"y":2.4},{"p":"F","i":"f25","s":"d","g":"r","x":14.7,"y":2.25},
{"p":"F","i":"f26","s":"s","g":"r","x":14.2,"y":2.7},{"p":"F","i":"f26","s":"s","g":"r","x":14.9,"y":1.8},
{"p":"F","i":"f27","s":"s","g":"r","x":13.9,"y":1.75},{"p":"F","i":"f27","s":"s","g":"r","x":14.8,"y":2.7},
{"p":"F","i":"f28","s":"s","g":"r","x":14.2,"y":1.55},{"p":"F","i":"f28","s":"s","g":"r","x":15.0,"y":1.7},
{"p":"F","i":"f29","s":"s","g":"r","x":14.7,"y":4.8},{"p":"F","i":"f29","s":"s","g":"r","x":15.8,"y":5.1},
{"p":"F","i":"f30","s":"d","g":"r","x":14.8,"y":4.85},{"p":"F","i":"f30","s":"d","g":"r","x":15.7,"y":5.05},
{"p":"F","i":"f31","s":"d","g":"r","x":17.0,"y":2.5},{"p":"F","i":"f31","s":"d","g":"r","x":18.0,"y":2.1},
{"p":"F","i":"f32","s":"s","g":"r","x":17.0,"y":2.2},{"p":"F","i":"f32","s":"s","g":"r","x":18.0,"y":1.6},
{"p":"F","i":"f33","s":"s","g":"r","x":18.6,"y":3.1},{"p":"F","i":"f33","s":"s","g":"r","x":19.6,"y":2.95},
{"p":"F","i":"f34","s":"s","g":"r","x":18.6,"y":2.75},{"p":"F","i":"f34","s":"s","g":"r","x":19.6,"y":2.3}
],
"R": [
{"p":"A","x":5.36,"y":14.8,"t":"rho = -0.527"},
{"p":"B","x":5.55,"y":5.6,"t":"rho = -0.594"},
{"p":"C","x":5.35,"y":72.9,"t":"rho = 0.044"},
{"p":"D","x":5.6,"y":109.8,"t":"rho = -0.529"},
{"p":"E","x":5.3,"y":76.5,"t":"rho = 0.746"},
{"p":"F","x":5.5,"y":5.49,"t":"rho = -0.432"}
],
"S": [
{"p":"A","x":15.75,"y":14.0,"t":"*"},
{"p":"B","x":15.7,"y":4.18,"t":"*"},
{"p":"C","x":15.24,"y":70,"t":"*"},
{"p":"D","x":15.26,"y":93.5,"t":"*"},
{"p":"E","x":15.24,"y":16.5,"t":"*"},
{"p":"F","x":15.08,"y":5.2,"t":"*"}
]
},
"config": {
"font": "Liberation Sans",
"view": {"stroke": null},
"axis": {"grid": false, "domainColor": "#9a9a9a", "tickColor": "#9a9a9a", "tickSize": 4, "labelFontSize": 12.5, "labelColor": "#000", "labelOverlap": false, "labelBound": false, "labelFlush": false, "titleFontSize": 14, "titleFontWeight": "normal", "titleColor": "#000", "labelPadding": 2},
"title": {"fontSize": 18, "fontWeight": "normal", "anchor": "start", "frame": "bounds", "offset": 1, "color": "#000"},
"text": {"font": "Liberation Sans", "color": "#000"}
},
"columns": 2,
"align": "each",
"spacing": {"row": 16, "column": 4},
"concat": [
{"title": {"text": "A"}, "width": 272, "height": 171,
 "encoding": {
   "x": {"field": "x", "type": "quantitative", "scale": {"domain": [5, 21], "nice": false, "zero": false}, "axis": {"values": [5,7,9,11,13,15,17,19,21], "labelOverlap": false, "title": null}},
   "y": {"field": "y", "type": "quantitative", "scale": {"domain": [0, 16], "nice": false}, "axis": {"values": [0,2,4,6,8,10,12,14,16], "labelOverlap": false, "title": "Grip strength (kg)", "titlePadding": 7}}},
 "layer": [
 {"data": {"name": "L"}, "transform": [{"filter": "datum.p==='A'"}], "mark": {"type": "line", "strokeWidth": 1.3},
  "encoding": {
   "detail": {"field": "i"},
   "color": {"field": "g", "type": "nominal", "scale": {"domain": ["b","r"], "range": ["#2e5b9f","#9c2226"]}, "legend": null},
   "strokeDash": {"field": "s", "type": "nominal", "scale": {"domain": ["s","d"], "range": [[1,0],[3,2]]}, "legend": null}}},
 {"data": {"name": "L"}, "transform": [{"filter": "datum.p==='A'"}, {"joinaggregate": [{"op": "max", "field": "x", "as": "mx"}], "groupby": ["i"]}, {"filter": "datum.x===datum.mx"}],
  "mark": {"type": "point", "filled": true, "size": 9, "opacity": 1},
  "encoding": {"color": {"field": "g", "type": "nominal", "legend": null}}},
 {"data": {"name": "R"}, "transform": [{"filter": "datum.p==='A'"}], "mark": {"type": "text", "align": "left", "baseline": "middle", "fontSize": 11},
  "encoding": {"text": {"field": "t"}}},
 {"data": {"name": "S"}, "transform": [{"filter": "datum.p==='A'"}], "mark": {"type": "text", "align": "center", "baseline": "middle", "fontSize": 13, "dy": 3},
  "encoding": {"text": {"field": "t"}}}
 ]},
{"title": {"text": "B"}, "width": 272, "height": 171,
 "encoding": {
   "x": {"field": "x", "type": "quantitative", "scale": {"domain": [5, 21], "nice": false, "zero": false}, "axis": {"values": [5,7,9,11,13,15,17,19,21], "labelOverlap": false, "title": null}},
   "y": {"field": "y", "type": "quantitative", "scale": {"domain": [0, 6], "nice": false}, "axis": {"values": [0,1,2,3,4,5,6], "labelOverlap": false, "title": "Pinch strength (kg)", "titlePadding": 18}}},
 "layer": [
 {"data": {"name": "L"}, "transform": [{"filter": "datum.p==='B'"}], "mark": {"type": "line", "strokeWidth": 1.3},
  "encoding": {
   "detail": {"field": "i"},
   "color": {"field": "g", "type": "nominal", "scale": {"domain": ["b","r"], "range": ["#2e5b9f","#9c2226"]}, "legend": null},
   "strokeDash": {"field": "s", "type": "nominal", "scale": {"domain": ["s","d"], "range": [[1,0],[3,2]]}, "legend": null}}},
 {"data": {"name": "L"}, "transform": [{"filter": "datum.p==='B'"}, {"joinaggregate": [{"op": "max", "field": "x", "as": "mx"}], "groupby": ["i"]}, {"filter": "datum.x===datum.mx"}],
  "mark": {"type": "point", "filled": true, "size": 9, "opacity": 1},
  "encoding": {"color": {"field": "g", "type": "nominal", "legend": null}}},
 {"data": {"name": "R"}, "transform": [{"filter": "datum.p==='B'"}], "mark": {"type": "text", "align": "left", "baseline": "middle", "fontSize": 11},
  "encoding": {"text": {"field": "t"}}},
 {"data": {"name": "S"}, "transform": [{"filter": "datum.p==='B'"}], "mark": {"type": "text", "align": "center", "baseline": "middle", "fontSize": 13, "dy": 3},
  "encoding": {"text": {"field": "t"}}}
 ]},
{"title": {"text": "C"}, "width": 272, "height": 171,
 "encoding": {
   "x": {"field": "x", "type": "quantitative", "scale": {"domain": [5, 21], "nice": false, "zero": false}, "axis": {"values": [5,7,9,11,13,15,17,19,21], "labelOverlap": false, "title": "Age (years)", "titleOpacity": 0, "titleFontSize": 7, "titlePadding": 2}},
   "y": {"field": "y", "type": "quantitative", "scale": {"domain": [0, 80], "nice": false}, "axis": {"values": [0,10,20,30,40,50,60,70,80], "labelOverlap": false, "title": "MoviPlate score (n)", "titlePadding": 7}}},
 "layer": [
 {"data": {"name": "L"}, "transform": [{"filter": "datum.p==='C'"}], "mark": {"type": "line", "strokeWidth": 1.3},
  "encoding": {
   "detail": {"field": "i"},
   "color": {"field": "g", "type": "nominal", "scale": {"domain": ["b","r"], "range": ["#2e5b9f","#9c2226"]}, "legend": null},
   "strokeDash": {"field": "s", "type": "nominal", "scale": {"domain": ["s","d"], "range": [[1,0],[3,2]]}, "legend": null}}},
 {"data": {"name": "L"}, "transform": [{"filter": "datum.p==='C'"}, {"joinaggregate": [{"op": "max", "field": "x", "as": "mx"}], "groupby": ["i"]}, {"filter": "datum.x===datum.mx"}],
  "mark": {"type": "point", "filled": true, "size": 9, "opacity": 1},
  "encoding": {"color": {"field": "g", "type": "nominal", "legend": null}}},
 {"data": {"name": "R"}, "transform": [{"filter": "datum.p==='C'"}], "mark": {"type": "text", "align": "left", "baseline": "middle", "fontSize": 11},
  "encoding": {"text": {"field": "t"}}},
 {"data": {"name": "S"}, "transform": [{"filter": "datum.p==='C'"}], "mark": {"type": "text", "align": "center", "baseline": "middle", "fontSize": 13, "dy": 3},
  "encoding": {"text": {"field": "t"}}}
 ]},
{"title": {"text": "D"}, "width": 272, "height": 171,
 "encoding": {
   "x": {"field": "x", "type": "quantitative", "scale": {"domain": [5, 21], "nice": false, "zero": false}, "axis": {"values": [5,7,9,11,13,15,17,19,21], "labelOverlap": false, "title": "Age (years)", "titleOpacity": 0, "titleFontSize": 7, "titlePadding": 2}},
   "y": {"field": "y", "type": "quantitative", "scale": {"domain": [0, 120], "nice": false}, "axis": {"values": [0,20,40,60,80,100], "labelOverlap": false, "title": "MFM-D3 score (%)", "titlePadding": 5}}},
 "layer": [
 {"data": {"name": "L"}, "transform": [{"filter": "datum.p==='D'"}], "mark": {"type": "line", "strokeWidth": 1.3},
  "encoding": {
   "detail": {"field": "i"},
   "color": {"field": "g", "type": "nominal", "scale": {"domain": ["b","r"], "range": ["#2e5b9f","#9c2226"]}, "legend": null},
   "strokeDash": {"field": "s", "type": "nominal", "scale": {"domain": ["s","d"], "range": [[1,0],[3,2]]}, "legend": null}}},
 {"data": {"name": "L"}, "transform": [{"filter": "datum.p==='D'"}, {"joinaggregate": [{"op": "max", "field": "x", "as": "mx"}], "groupby": ["i"]}, {"filter": "datum.x===datum.mx"}],
  "mark": {"type": "point", "filled": true, "size": 9, "opacity": 1},
  "encoding": {"color": {"field": "g", "type": "nominal", "legend": null}}},
 {"data": {"name": "R"}, "transform": [{"filter": "datum.p==='D'"}], "mark": {"type": "text", "align": "left", "baseline": "middle", "fontSize": 11},
  "encoding": {"text": {"field": "t"}}},
 {"data": {"name": "S"}, "transform": [{"filter": "datum.p==='D'"}], "mark": {"type": "text", "align": "center", "baseline": "middle", "fontSize": 13, "dy": 3},
  "encoding": {"text": {"field": "t"}}}
 ]},
{"title": {"text": "E"}, "width": 272, "height": 171,
 "encoding": {
   "x": {"field": "x", "type": "quantitative", "scale": {"domain": [5, 21], "nice": false, "zero": false}, "axis": {"values": [5,7,9,11,13,15,17,19,21], "labelOverlap": false, "title": "Age (years)", "titlePadding": 10}},
   "y": {"field": "y", "type": "quantitative", "scale": {"domain": [0, 85], "nice": false}, "axis": {"values": [0,10,20,30,40,50,60,70,80], "labelOverlap": false, "title": "Fat (%)", "titlePadding": 7}}},
 "layer": [
 {"data": {"name": "L"}, "transform": [{"filter": "datum.p==='E'"}], "mark": {"type": "line", "strokeWidth": 1.3},
  "encoding": {
   "detail": {"field": "i"},
   "color": {"field": "g", "type": "nominal", "scale": {"domain": ["b","r"], "range": ["#2e5b9f","#9c2226"]}, "legend": null},
   "strokeDash": {"field": "s", "type": "nominal", "scale": {"domain": ["s","d"], "range": [[1,0],[3,2]]}, "legend": null}}},
 {"data": {"name": "L"}, "transform": [{"filter": "datum.p==='E'"}, {"joinaggregate": [{"op": "max", "field": "x", "as": "mx"}], "groupby": ["i"]}, {"filter": "datum.x===datum.mx"}],
  "mark": {"type": "point", "filled": true, "size": 9, "opacity": 1},
  "encoding": {"color": {"field": "g", "type": "nominal", "legend": null}}},
 {"data": {"name": "R"}, "transform": [{"filter": "datum.p==='E'"}], "mark": {"type": "text", "align": "left", "baseline": "middle", "fontSize": 11},
  "encoding": {"text": {"field": "t"}}},
 {"data": {"name": "S"}, "transform": [{"filter": "datum.p==='E'"}], "mark": {"type": "text", "align": "center", "baseline": "middle", "fontSize": 13, "dy": 3},
  "encoding": {"text": {"field": "t"}}}
 ]},
{"title": {"text": "F"}, "width": 272, "height": 171,
 "encoding": {
   "x": {"field": "x", "type": "quantitative", "scale": {"domain": [5, 21], "nice": false, "zero": false}, "axis": {"values": [5,7,9,11,13,15,17,19,21], "labelOverlap": false, "title": "Age (years)", "titlePadding": 10}},
   "y": {"field": "y", "type": "quantitative", "scale": {"domain": [0, 6], "nice": false}, "axis": {"values": [0,1,2,3,4,5,6], "labelOverlap": false, "title": "PCr/ATP", "titlePadding": 19}}},
 "layer": [
 {"data": {"name": "L"}, "transform": [{"filter": "datum.p==='F'"}], "mark": {"type": "line", "strokeWidth": 1.3},
  "encoding": {
   "detail": {"field": "i"},
   "color": {"field": "g", "type": "nominal", "scale": {"domain": ["b","r"], "range": ["#2e5b9f","#9c2226"]}, "legend": null},
   "strokeDash": {"field": "s", "type": "nominal", "scale": {"domain": ["s","d"], "range": [[1,0],[3,2]]}, "legend": null}}},
 {"data": {"name": "L"}, "transform": [{"filter": "datum.p==='F'"}, {"joinaggregate": [{"op": "max", "field": "x", "as": "mx"}], "groupby": ["i"]}, {"filter": "datum.x===datum.mx"}],
  "mark": {"type": "point", "filled": true, "size": 9, "opacity": 1},
  "encoding": {"color": {"field": "g", "type": "nominal", "legend": null}}},
 {"data": {"name": "R"}, "transform": [{"filter": "datum.p==='F'"}], "mark": {"type": "text", "align": "left", "baseline": "middle", "fontSize": 11},
  "encoding": {"text": {"field": "t"}}},
 {"data": {"name": "S"}, "transform": [{"filter": "datum.p==='F'"}], "mark": {"type": "text", "align": "center", "baseline": "middle", "fontSize": 13, "dy": 3},
  "encoding": {"text": {"field": "t"}}}
 ]}
]
}
